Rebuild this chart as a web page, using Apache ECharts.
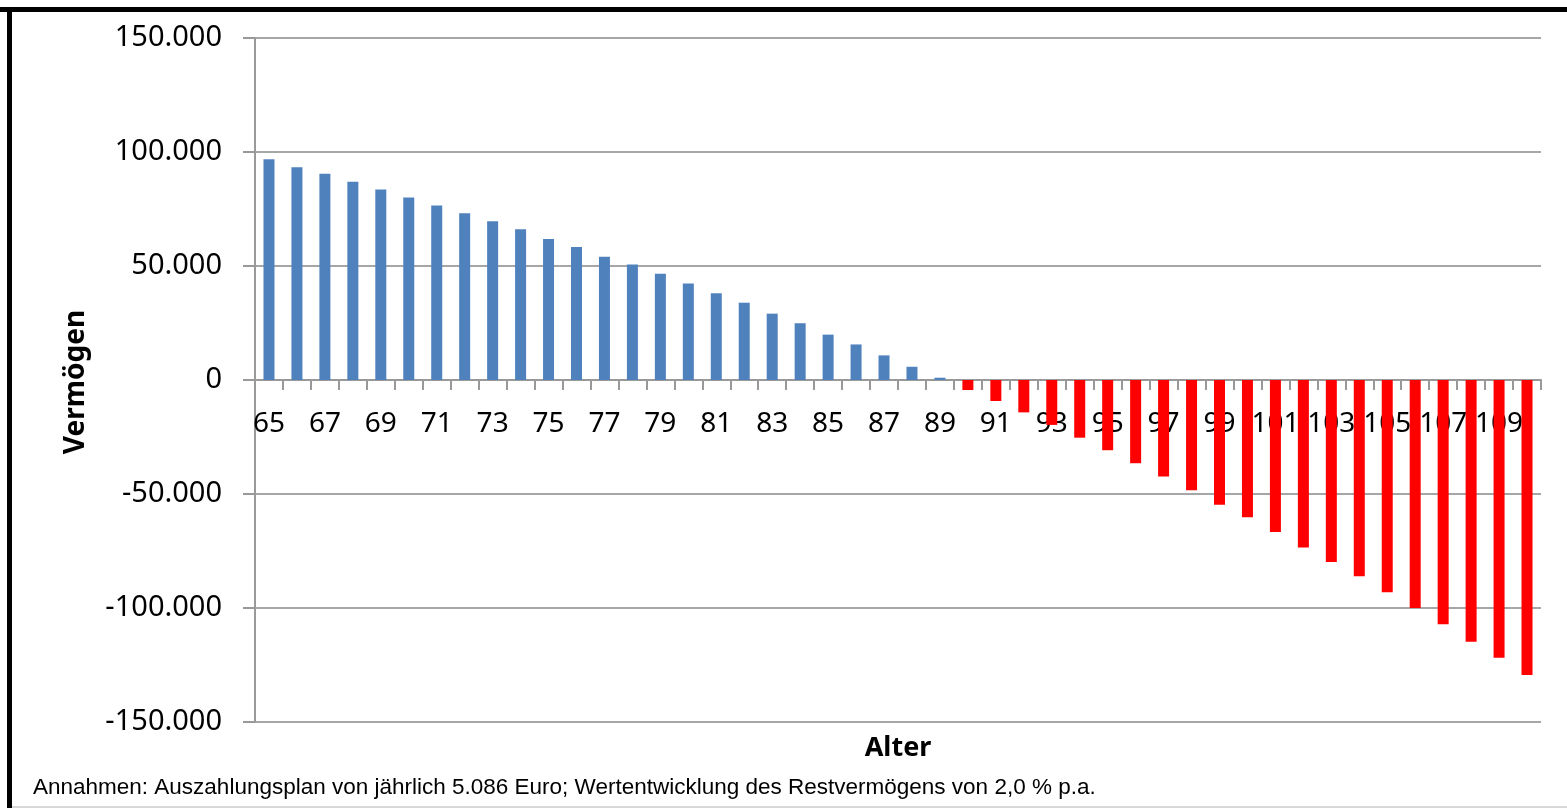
<!DOCTYPE html>
<html><head><meta charset="utf-8">
<script src="https://cdn.jsdelivr.net/npm/echarts@6/dist/echarts.min.js"></script>
<style>html,body{margin:0;padding:0;background:#fff}#c{width:1567px;height:808px}</style>
</head><body><div id="c"></div>
<script>
const ages = ["65","66","67","68","69","70","71","72","73","74","75","76","77","78","79","80","81","82","83","84","85","86","87","88","89","90","91","92","93","94","95","96","97","98","99","100","101","102","103","104","105","106","107","108","109","110"];
const vermoegen = [96800,93300,90500,87000,83500,80000,76500,73100,69600,66100,61800,58300,54100,50700,46600,42300,38000,33900,29100,24900,19900,15600,10800,5800,1000,-4400,-9200,-14200,-19700,-25300,-30800,-36500,-42300,-48400,-54700,-60200,-66700,-73500,-79800,-86100,-93100,-100000,-107100,-114800,-121800,-129400];
const yTitle = "Vermögen";
const xTitle = "Alter";
const note = "Annahmen: Auszahlungsplan von jährlich 5.086 Euro; Wertentwicklung des Restvermögens von 2,0 % p.a.";

function fmt(v){ const s = Math.abs(v).toString().replace(/\B(?=(\d{3})+(?!\d))/g, "."); return (v<0?"-":"")+s; }

const gridTop = 38, gridBottom = 86, H = 808;
const plotH = H - gridTop - gridBottom;
const zeroOffset = -plotH / 2; // moves category axis from bottom up to the zero line

const chart = echarts.init(document.getElementById('c'));
chart.setOption({
  animation:false,
  backgroundColor:'#fff',
  grid:{left:255,right:26,top:gridTop,bottom:gridBottom,containLabel:false},
  xAxis:{
    type:'category', data:ages, boundaryGap:true, position:'bottom', offset:zeroOffset,
    axisLine:{onZero:false,lineStyle:{color:'#999',width:2}},
    axisTick:{show:true,interval:0,alignWithLabel:false,length:10,inside:false,lineStyle:{color:'#999',width:2}},
    axisLabel:{interval:1,margin:30,fontFamily:'Noto Sans',fontSize:28,color:'#000'}
  },
  yAxis:{
    type:'value', min:-150000, max:150000, interval:50000,
    axisLine:{show:true,lineStyle:{color:'#999',width:2}},
    axisTick:{show:true,length:12,lineStyle:{color:'#999',width:2}},
    splitLine:{lineStyle:{color:'#a6a6a6',width:2}},
    axisLabel:{formatter:fmt,margin:33,fontFamily:'Noto Sans',fontSize:29,color:'#000'}
  },
  graphic:[
    {type:'rect',shape:{x:0,y:7,width:1567,height:5},style:{fill:'#000'}},
    {type:'rect',shape:{x:7,y:7,width:5,height:801},style:{fill:'#000'}},
    {type:'rect',shape:{x:12,y:806,width:1555,height:2},style:{fill:'#d8d8d8'}},
    {type:'text',x:76,y:382,rotation:Math.PI/2,style:{text:yTitle,fontFamily:'Noto Sans',fontWeight:'bold',fontSize:28,fill:'#000',align:'center',verticalAlign:'middle'}},
    {type:'text',x:898,y:748,style:{text:xTitle,fontFamily:'Noto Sans',fontWeight:'bold',fontSize:27,fill:'#000',align:'center',verticalAlign:'middle'}},
    {type:'text',x:33,y:788,style:{text:note,fontFamily:'Liberation Sans',fontSize:22.5,fill:'#000',align:'left',verticalAlign:'middle'}}
  ],
  series:[{
    type:'bar', data:vermoegen, barWidth:11,
    itemStyle:{color:function(p){return p.value<0?'#ff0000':'#4f81bd';}}
  }]
});
</script></body></html>
